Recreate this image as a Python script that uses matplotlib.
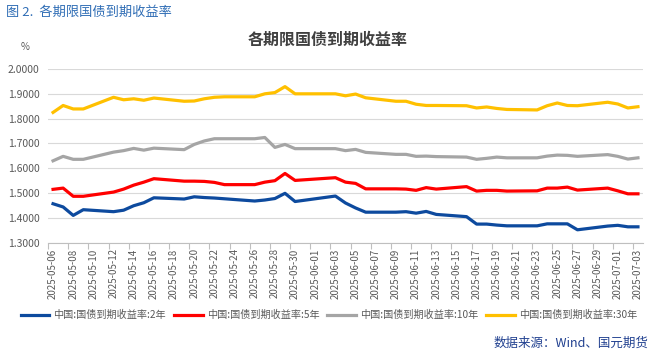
import numpy as np
import matplotlib
matplotlib.use("Agg")
import matplotlib.pyplot as plt

plt.rcParams['font.family'] = ['Noto Sans CJK SC', 'DejaVu Sans']

dates = ["2025-05-06", "2025-05-07", "2025-05-08", "2025-05-09", "2025-05-12", "2025-05-13",
         "2025-05-14", "2025-05-15", "2025-05-16", "2025-05-19", "2025-05-20", "2025-05-21",
         "2025-05-22", "2025-05-23", "2025-05-26", "2025-05-27", "2025-05-28", "2025-05-29",
         "2025-05-30", "2025-06-03", "2025-06-04", "2025-06-05", "2025-06-06", "2025-06-09",
         "2025-06-10", "2025-06-11", "2025-06-12", "2025-06-13", "2025-06-16", "2025-06-17",
         "2025-06-18", "2025-06-19", "2025-06-20", "2025-06-23", "2025-06-24", "2025-06-25",
         "2025-06-26", "2025-06-27", "2025-06-30", "2025-07-01", "2025-07-02", "2025-07-03"]

y2 = [1.457, 1.444, 1.410, 1.433, 1.425, 1.431, 1.449, 1.461, 1.481, 1.476, 1.485, 1.482,
      1.480, 1.477, 1.468, 1.472, 1.478, 1.499, 1.466, 1.488, 1.460, 1.440, 1.423, 1.423,
      1.425, 1.419, 1.426, 1.414, 1.405, 1.375, 1.375, 1.371, 1.368, 1.368, 1.376, 1.376,
      1.376, 1.352, 1.367, 1.370, 1.364, 1.364]
y5 = [1.515, 1.520, 1.487, 1.487, 1.504, 1.516, 1.532, 1.544, 1.558, 1.548, 1.548, 1.547,
      1.543, 1.534, 1.534, 1.544, 1.550, 1.579, 1.551, 1.562, 1.544, 1.539, 1.517, 1.517,
      1.516, 1.511, 1.522, 1.516, 1.526, 1.508, 1.511, 1.511, 1.508, 1.509, 1.520, 1.520,
      1.524, 1.512, 1.520, 1.509, 1.497, 1.497]
y10 = [1.630, 1.648, 1.636, 1.636, 1.665, 1.671, 1.680, 1.673, 1.681, 1.675, 1.696, 1.710,
       1.719, 1.719, 1.719, 1.724, 1.684, 1.696, 1.679, 1.679, 1.671, 1.676, 1.664, 1.656,
       1.656, 1.648, 1.649, 1.647, 1.645, 1.636, 1.640, 1.645, 1.642, 1.642, 1.649, 1.653,
       1.652, 1.648, 1.655, 1.648, 1.637, 1.642]
y30 = [1.825, 1.853, 1.839, 1.839, 1.886, 1.876, 1.880, 1.874, 1.883, 1.870, 1.871, 1.880,
       1.886, 1.888, 1.888, 1.900, 1.905, 1.929, 1.900, 1.900, 1.892, 1.899, 1.884, 1.870,
       1.870, 1.858, 1.853, 1.853, 1.852, 1.843, 1.847, 1.841, 1.837, 1.835, 1.852, 1.863,
       1.853, 1.852, 1.866, 1.859, 1.843, 1.848]

series_names = ["中国:国债到期收益率:2年", "中国:国债到期收益率:5年",
                "中国:国债到期收益率:10年", "中国:国债到期收益率:30年"]
series_vals = [y2, y5, y10, y30]
colors = ["#0D4A9E", "#FF0000", "#A5A5A5", "#FFC000"]

d = np.array(dates, dtype="datetime64[D]")
start = d[0]
xnum = (d - start).astype(int)
ndays = int((d[-1] - start).astype(int))
tick_days = np.arange(0, ndays + 1, 2)
tick_labels = [str(start + np.timedelta64(int(k), 'D')) for k in tick_days]

fig = plt.figure(figsize=(6.52, 3.55), dpi=100)
ax = fig.add_axes([48 / 652, 1 - 242.7 / 355, (643 - 48) / 652, (242.7 - 69) / 355])

for name, vals, c in zip(series_names, series_vals, colors):
    ax.plot(xnum, vals, color=c, lw=2.3, label=name, solid_joinstyle='round')

ax.set_xlim(-0.5, ndays + 0.5)
ax.set_ylim(1.3, 2.0)
yt = np.round(np.arange(1.3, 2.0001, 0.1), 1)
ax.set_yticks(yt)
ax.set_yticklabels([f"{v:.4f}" for v in yt], fontsize=7.5, color="#595959")
ax.tick_params(axis='y', length=0, pad=6)
ax.grid(axis='y', color="#D9D9D9", lw=0.8)
ax.set_axisbelow(True)

ax.set_xticks(tick_days - 0.5)
ax.set_xticklabels([])
ax.tick_params(axis='x', which='major', length=4, color="#BFBFBF", width=0.8, direction='out')
ax.set_xticks(tick_days, minor=True)
ax.set_xticklabels(tick_labels, minor=True, rotation=90, fontsize=7, color="#595959")
ax.tick_params(axis='x', which='minor', length=0, pad=4)

for s in ['top', 'right', 'left']:
    ax.spines[s].set_visible(False)
ax.spines['bottom'].set_color("#BFBFBF")
ax.spines['bottom'].set_linewidth(0.8)

fig.text(25 / 652, 1 - 47 / 355, "%", fontsize=7, color="#595959", ha='center', va='center')
fig.text(328 / 652, 1 - 40 / 355, "各期限国债到期收益率", fontsize=11.5, fontweight='bold',
         color="#404040", ha='center', va='center')
fig.text(6 / 652, 1 - 12 / 355, "图 2.  各期限国债到期收益率", fontsize=9.5, color="#2F6DB5",
         ha='left', va='center')
fig.text(648 / 652, 1 - 343 / 355, "数据来源：Wind、国元期货", fontsize=9, color="#1F3F8F",
         ha='right', va='center')

leg = fig.legend(loc='center', bbox_to_anchor=(329 / 652, 1 - 315 / 355), ncol=4, frameon=False,
                 fontsize=7.3, handlelength=2.8, handletextpad=0.4, columnspacing=0.8,
                 labelcolor="#595959")

fig.savefig("out.png", dpi=100)
